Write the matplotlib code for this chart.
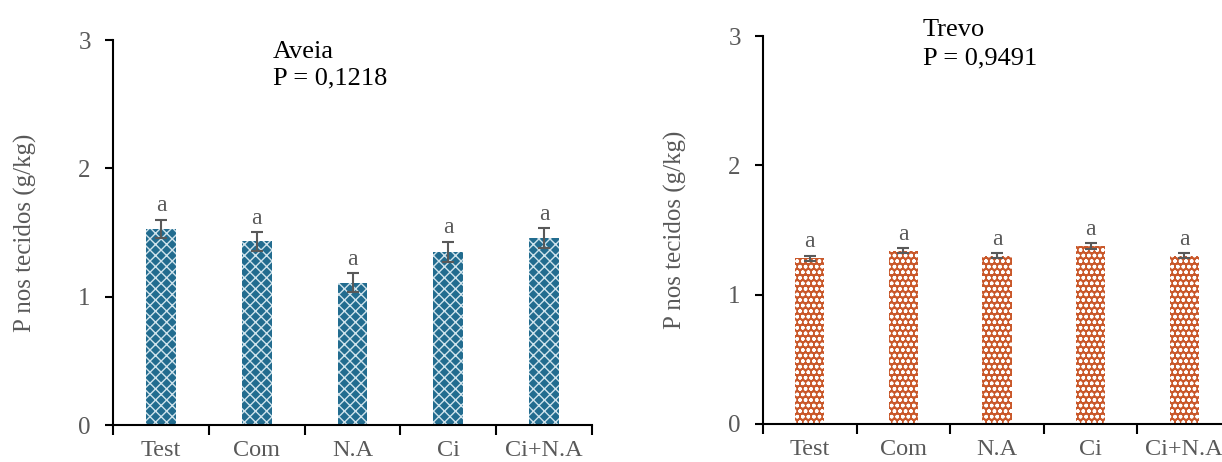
import matplotlib
matplotlib.use("Agg")
import matplotlib.pyplot as plt
import numpy as np

plt.rcParams['font.family'] = ['Liberation Serif', 'DejaVu Serif']
plt.rcParams['hatch.linewidth'] = 1.0

categories = ["Test", "Com", "N.A", "Ci", "Ci+N.A"]
aveia_values = [1.53, 1.43, 1.11, 1.35, 1.455]
aveia_errors = [0.07, 0.075, 0.075, 0.078, 0.078]
trevo_values = [1.28, 1.34, 1.30, 1.375, 1.30]
trevo_errors = [0.02, 0.02, 0.02, 0.025, 0.02]
letters_aveia = ["a", "a", "a", "a", "a"]
letters_trevo = ["a", "a", "a", "a", "a"]
yticks = [0, 1, 2, 3]

W, H = 1222, 462
fig = plt.figure(figsize=(W / 100, H / 100), dpi=100)

gray = '#595959'

def make_axes(l, r, b, t):
    return fig.add_axes([l / W, 1 - b / H, (r - l) / W, (b - t) / H])

def draw(ax, values, errors, letters, face, hatch, title, pval, tx, ty1, ty2, lpad):
    x = np.arange(len(categories))
    ax.bar(x, values, width=0.31, color=face, edgecolor='#cfe3ec' if hatch == 'xxx' else 'white',
           hatch=hatch, linewidth=0, zorder=2)
    ax.errorbar(x, values, yerr=errors, fmt='none', ecolor=gray, elinewidth=1.5,
                capsize=4, capthick=1.5, zorder=3)
    for xi, v, e, s in zip(x, values, errors, letters):
        ax.text(xi, v + e + 0.065, s, ha='center', va='baseline', fontsize=17, color=gray)
    ax.set_xlim(-0.5, len(categories) - 0.5)
    ax.set_ylim(0, 3)
    ax.set_yticks(yticks)
    ax.set_yticklabels([str(v) for v in yticks], fontsize=18, color=gray)
    ax.set_xticks(x)
    ax.set_xticklabels(categories, fontsize=17.5, color=gray)
    ax.tick_params(axis='x', which='major', length=0, pad=11)
    ax.set_xticks(np.arange(len(categories) + 1) - 0.5, minor=True)
    ax.tick_params(axis='x', which='minor', length=7, width=1.5, color='black')
    ax.tick_params(axis='y', length=6, width=1.5, color='black', pad=10)
    for s in ['top', 'right']:
        ax.spines[s].set_visible(False)
    for s in ['left', 'bottom']:
        ax.spines[s].set_linewidth(1.5)
    ax.set_ylabel("P nos tecidos (g/kg)", fontsize=18, color=gray, labelpad=lpad)
    ax.text(tx, ty1, title, transform=ax.get_yaxis_transform(), fontsize=19,
            color='black', va='baseline', ha='left')
    ax.text(tx, ty2, pval, transform=ax.get_yaxis_transform(), fontsize=19,
            color='black', va='baseline', ha='left')

ax1 = make_axes(113, 592, 425, 40)
draw(ax1, aveia_values, aveia_errors, letters_aveia, '#226c8f', 'xxx',
     "Aveia", "P = 0,1218", 0.334, 2.86, 2.65, 30)

ax2 = make_axes(763, 1231, 424, 36)
draw(ax2, trevo_values, trevo_errors, letters_trevo, '#c9582a', 'ooo',
     "Trevo", "P = 0,9491", 0.342, 3.0, 2.78, 30)

fig.savefig("out.png", dpi=100)
